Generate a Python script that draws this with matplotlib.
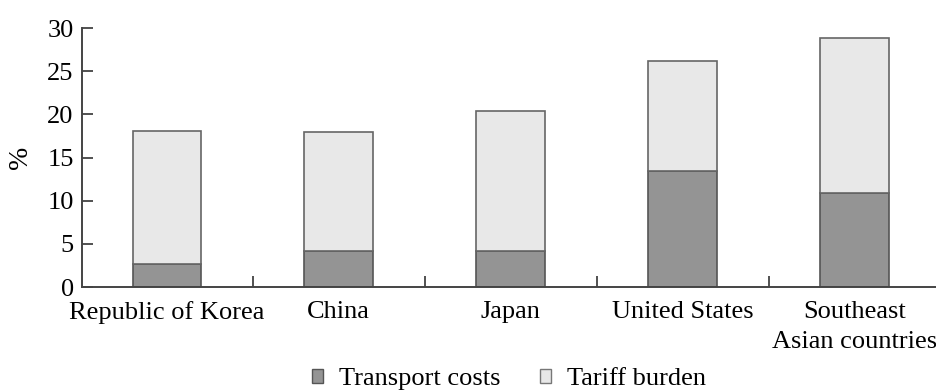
import numpy as np
import matplotlib.pyplot as plt
from matplotlib.patches import Patch

countries = ["Republic of Korea", "China", "Japan", "United States",
             "Southeast\nAsian countries"]
transport = [2.7, 4.15, 4.15, 13.5, 10.9]
total = [18.05, 18.0, 20.4, 26.2, 28.9]
tariff = [t - b for t, b in zip(total, transport)]

plt.rcParams['font.family'] = ['Liberation Serif', 'DejaVu Serif']
plt.rcParams['font.size'] = 19

fig = plt.figure(figsize=(9.37, 3.9), dpi=100)
ax = fig.add_axes([0.0875, 0.264, 0.9125, 0.664])

x = np.arange(len(countries))
w = 0.40
dark = '#949494'
light = '#e8e8e8'
ax.bar(x, transport, w, color=dark, edgecolor='#555555', linewidth=1.2)
ax.bar(x, tariff, w, bottom=transport, color=light, edgecolor='#666666', linewidth=1.2)

ax.set_xlim(-0.494, 4.48)
ax.set_ylim(0, 30)
ax.set_yticks(range(0, 31, 5))
ax.set_xticks(x)
ax.set_xticklabels(countries, linespacing=1.5)
ax.tick_params(axis='x', which='major', length=0, pad=10)
ax.set_xticks(x[:-1] + 0.5, minor=True)
ax.tick_params(axis='x', which='minor', direction='in', length=8, width=1.2, color='#333333')
ax.tick_params(axis='y', direction='in', length=8, width=1.2, color='#333333', pad=6)

for s in ['top', 'right']:
    ax.spines[s].set_visible(False)
for s in ['left', 'bottom']:
    ax.spines[s].set_color('#444444')
    ax.spines[s].set_linewidth(1.4)

ax.set_ylabel('%', labelpad=10, fontsize=20)

handles = [Patch(facecolor=dark, edgecolor='#555555', label='Transport costs'),
           Patch(facecolor=light, edgecolor='#777777', label='Tariff burden')]
fig.legend(handles=handles, loc='center', bbox_to_anchor=(0.543, 0.027), ncol=2,
           frameon=False, handlelength=0.42, handleheight=0.42, handletextpad=0.6,
           columnspacing=1.5, borderaxespad=0)

fig.savefig('out.png', dpi=100)
